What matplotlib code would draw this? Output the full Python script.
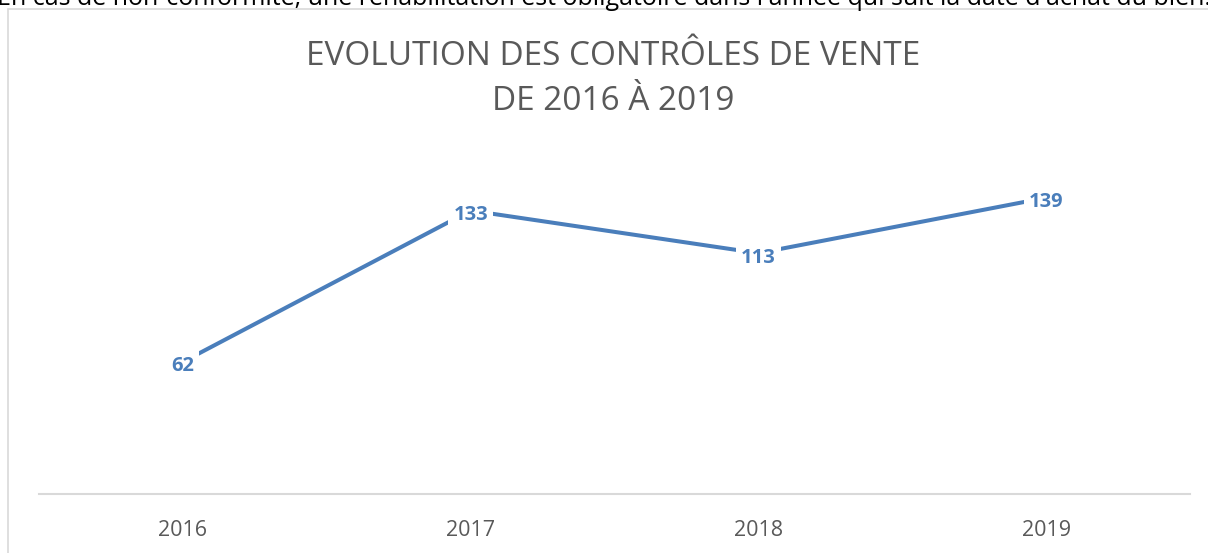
import matplotlib
matplotlib.use("Agg")
import matplotlib.pyplot as plt
from matplotlib.patches import Rectangle

years = ["2016", "2017", "2018", "2019"]
values = [62, 133, 113, 139]
title = "EVOLUTION DES CONTRÔLES DE VENTE\nDE 2016 À 2019"
top_text = "En cas de non-conformité, une réhabilitation est obligatoire dans l'année qui suit la date d'achat du bien."

W, H = 1208, 553
fig = plt.figure(figsize=(W / 100, H / 100), dpi=100)
fig.patch.set_facecolor("white")

font = "Open Sans"
blue = "#4A7EBB"

# page text cut at the top
fig.text(-3 / W, 1 - 5 / H, top_text, fontsize=18, family=font, color="black",
         ha="left", va="baseline")

# chart frame
fig.add_artist(Rectangle((8 / W, -0.1), 1.2, 1.1 - 9 / H, transform=fig.transFigure,
                         fill=False, edgecolor="#d9d9d9", linewidth=1.2))

fig.text(613 / W, 1 - 79 / H, title, fontsize=24, family=font, color="#595959",
         ha="center", va="center", linespacing=1.5)

ax = fig.add_axes([39 / W, 1 - 494 / H, (1190 - 39) / W, (494 - 153) / H])
x = list(range(len(years)))
ax.plot(x, values, color=blue, linewidth=2.9, solid_capstyle="butt", zorder=2)
for xi, v in zip(x, values):
    ax.annotate(str(v), (xi, v), xytext=(0, -3.2), textcoords="offset points",
                ha="center", va="center", fontsize=14.5, fontweight="bold",
                family=font, color=blue, zorder=3,
                bbox=dict(boxstyle="square,pad=0.25", facecolor="white", edgecolor="none"))

ax.set_xlim(-0.5, len(years) - 0.5)
ax.set_ylim(0, 160)
ax.set_xticks(x)
ax.set_xticklabels(years, family=font, fontsize=15.5, color="#595959")
ax.tick_params(axis="x", length=0, pad=19)
ax.set_yticks([])
for s in ["left", "right", "top"]:
    ax.spines[s].set_visible(False)
ax.spines["bottom"].set_color("#d9d9d9")
ax.spines["bottom"].set_linewidth(1.5)
ax.patch.set_alpha(0)

fig.savefig("out.png", dpi=100)
